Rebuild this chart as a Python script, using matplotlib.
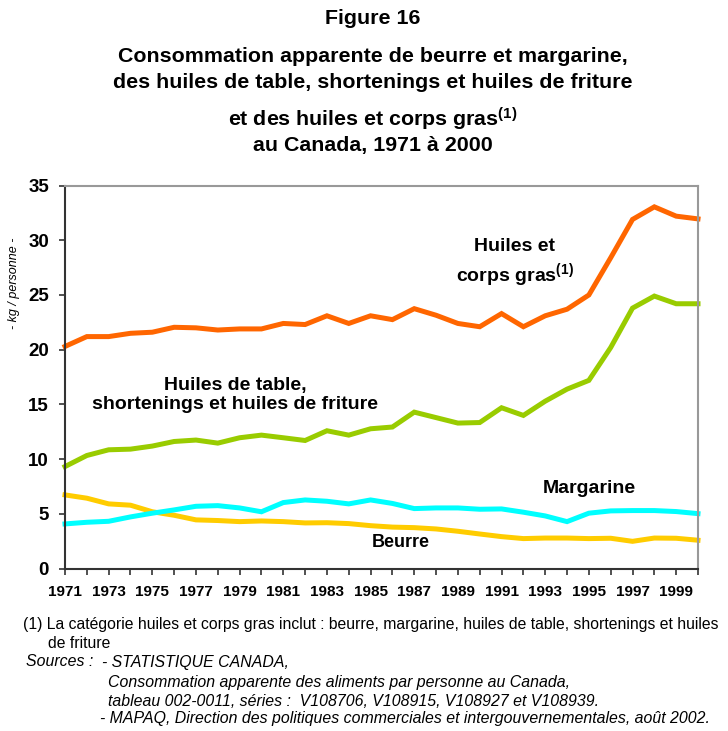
import numpy as np
import matplotlib
matplotlib.use('Agg')
import matplotlib.pyplot as plt

plt.rcParams['font.family'] = ['Liberation Sans', 'DejaVu Sans']
plt.rcParams['mathtext.fontset'] = 'custom'
plt.rcParams['mathtext.rm'] = 'Liberation Sans'
plt.rcParams['mathtext.bf'] = 'Liberation Sans:bold'
plt.rcParams['mathtext.it'] = 'Liberation Sans:italic'

# data (kg / personne)
years = np.arange(1971, 2001)
huiles_corps_gras = [20.3, 21.2, 21.2, 21.5, 21.6, 22.05, 22.0, 21.8, 21.9, 21.9,
                     22.4, 22.3, 23.1, 22.4, 23.1, 22.75, 23.75, 23.15, 22.4, 22.1,
                     23.3, 22.1, 23.1, 23.7, 25.0, 28.4, 31.9, 33.05, 32.2, 31.95]
huiles_table = [9.33, 10.34, 10.86, 10.92, 11.2, 11.62, 11.75, 11.47, 11.96, 12.2,
                11.96, 11.71, 12.6, 12.2, 12.78, 12.94, 14.3, 13.8, 13.3, 13.35,
                14.7, 14.0, 15.3, 16.4, 17.2, 20.2, 23.8, 24.9, 24.2, 24.2]
beurre = [6.74, 6.44, 5.92, 5.8, 5.2, 4.88, 4.46, 4.4, 4.3, 4.36,
          4.3, 4.18, 4.2, 4.12, 3.93, 3.8, 3.75, 3.63, 3.42, 3.17,
          2.93, 2.75, 2.8, 2.8, 2.75, 2.78, 2.5, 2.8, 2.78, 2.6]
margarine = [4.09, 4.24, 4.33, 4.73, 5.07, 5.37, 5.7, 5.76, 5.55, 5.2,
             6.04, 6.28, 6.16, 5.92, 6.28, 5.96, 5.49, 5.55, 5.55, 5.43,
             5.46, 5.16, 4.82, 4.3, 5.07, 5.28, 5.31, 5.31, 5.22, 5.03]

W, H = 728, 731
fig = plt.figure(figsize=(W/100, H/100), dpi=100)
fig.patch.set_facecolor('white')

def px(x, y):
    return x/W, 1 - y/H

ax = fig.add_axes([65/W, 1 - 568.7/H, (698 - 65)/W, (568.7 - 185.5)/H])

lw = 3.6
ax.plot(years, beurre, color='#FFCC00', lw=lw, clip_on=False, solid_joinstyle='miter')
ax.plot(years, margarine, color='#00FFFF', lw=lw, clip_on=False, solid_joinstyle='miter')
ax.plot(years, huiles_table, color='#99CC00', lw=lw, clip_on=False, solid_joinstyle='miter')
ax.plot(years, huiles_corps_gras, color='#FF6600', lw=lw, clip_on=False, solid_joinstyle='miter')

ax.set_xlim(1971, 2000)
ax.set_ylim(0, 35)
ax.set_yticks(np.arange(0, 36, 5))
ax.set_xticks(years)
ax.set_xticklabels([str(y) if (y - 1971) % 2 == 0 else '' for y in years])

for lab in ax.get_yticklabels():
    lab.set_fontweight('bold')
    lab.set_fontsize(13.5)
for lab in ax.get_xticklabels():
    lab.set_fontweight('bold')
    lab.set_fontsize(11)

ax.tick_params(axis='both', direction='out', length=4.5, width=1.2, color='#333333')
ax.tick_params(axis='y', pad=7)
ax.tick_params(axis='x', pad=7)

for side in ['left', 'bottom']:
    ax.spines[side].set_color('#333333')
    ax.spines[side].set_linewidth(1.5)
for side in ['top', 'right']:
    ax.spines[side].set_color('#999999')
    ax.spines[side].set_linewidth(1.5)

# series labels
ax.text(1991.6, 27.9, 'Huiles et\ncorps gras$^{\\mathbf{(1)}}$', ha='center', va='center',
        fontsize=14, fontweight='bold', linespacing=1.3)
ax.text(1978.8, 15.9, 'Huiles de table,\nshortenings et huiles de friture', ha='center',
        va='center', fontsize=14, fontweight='bold', linespacing=1.15)
ax.text(1995.0, 7.3, 'Margarine', ha='center', va='center', fontsize=14, fontweight='bold')
ax.text(1986.4, 2.35, 'Beurre', ha='center', va='center', fontsize=13, fontweight='bold')

fig.text(*px(14, 283), '- kg / personne -', rotation=90, ha='center', va='center',
         fontsize=9, style='italic')

# titles
cx = 373
tfs = 15.4
fig.text(*px(cx, 18), 'Figure 16', ha='center', va='center', fontsize=tfs, fontweight='bold')
fig.text(*px(cx, 56), 'Consommation apparente de beurre et margarine,', ha='center',
         va='center', fontsize=tfs, fontweight='bold')
fig.text(*px(cx, 82), 'des huiles de table, shortenings et huiles de friture', ha='center',
         va='center', fontsize=tfs, fontweight='bold')
fig.text(*px(cx, 119), 'et des huiles et corps gras$^{\\mathbf{(1)}}$', ha='center',
         va='center', fontsize=tfs, fontweight='bold')
fig.text(*px(cx, 145), 'au Canada, 1971 à 2000', ha='center', va='center', fontsize=tfs,
         fontweight='bold')

# footnotes
fs = 11.3
ifs = 11.4
fig.text(*px(23, 625), '(1) La catégorie huiles et corps gras inclut : beurre, margarine, '
         'huiles de table, shortenings et huiles', va='center', fontsize=fs)
fig.text(*px(48, 643), 'de friture', va='center', fontsize=fs)
fig.text(*px(26, 662), 'Sources :', va='center', fontsize=ifs, style='italic')
fig.text(*px(102, 662), '- STATISTIQUE CANADA,', va='center', fontsize=ifs, style='italic')
fig.text(*px(108, 682), 'Consommation apparente des aliments par personne au Canada,',
         va='center', fontsize=ifs, style='italic')
fig.text(*px(108, 701), 'tableau 002-0011, séries :  V108706, V108915, V108927 et V108939.',
         va='center', fontsize=ifs, style='italic')
fig.text(*px(100, 719), '- MAPAQ, Direction des politiques commerciales et '
         'intergouvernementales, août 2002.', va='center', fontsize=ifs, style='italic')

fig.savefig('out.png', dpi=100)
